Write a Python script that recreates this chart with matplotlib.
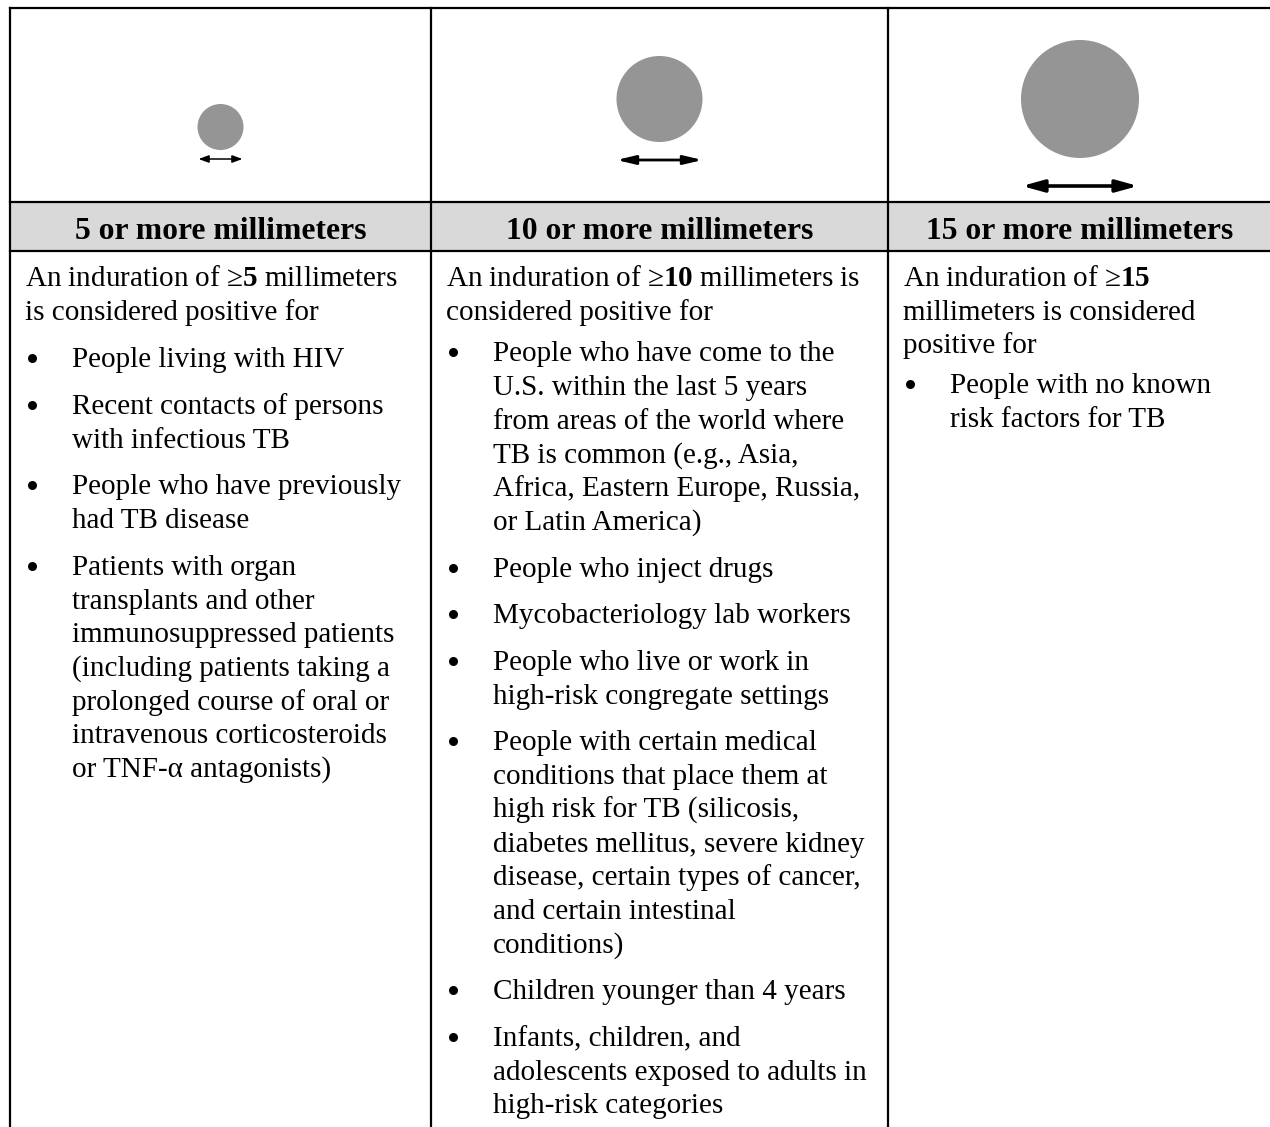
import matplotlib
matplotlib.use("Agg")
import matplotlib.pyplot as plt
from matplotlib.patches import Circle, Rectangle, FancyArrowPatch, ArrowStyle

plt.rcParams['font.family'] = ['Liberation Serif', 'DejaVu Serif']
plt.rcParams['mathtext.fontset'] = 'custom'
plt.rcParams['mathtext.rm'] = 'Liberation Serif'
plt.rcParams['mathtext.bf'] = 'Liberation Serif:bold'

# table content
thresholds = [5, 10, 15]
headers = ["5 or more millimeters", "10 or more millimeters", "15 or more millimeters"]
intros = [
    ["An induration of \u2265$\\mathbf{5}$ millimeters", "is considered positive for"],
    ["An induration of \u2265$\\mathbf{10}$ millimeters is", "considered positive for"],
    ["An induration of \u2265$\\mathbf{15}$", "millimeters is considered", "positive for"],
]
bullets = [
    [
        ["People living with HIV"],
        ["Recent contacts of persons", "with infectious TB"],
        ["People who have previously", "had TB disease"],
        ["Patients with organ", "transplants and other", "immunosuppressed patients",
         "(including patients taking a", "prolonged course of oral or",
         "intravenous corticosteroids", "or TNF-\u03b1 antagonists)"],
    ],
    [
        ["People who have come to the", "U.S. within the last 5 years",
         "from areas of the world where", "TB is common (e.g., Asia,",
         "Africa, Eastern Europe, Russia,", "or Latin America)"],
        ["People who inject drugs"],
        ["Mycobacteriology lab workers"],
        ["People who live or work in", "high-risk congregate settings"],
        ["People with certain medical", "conditions that place them at",
         "high risk for TB (silicosis,", "diabetes mellitus, severe kidney",
         "disease, certain types of cancer,", "and certain intestinal", "conditions)"],
        ["Children younger than 4 years"],
        ["Infants, children, and", "adolescents exposed to adults in",
         "high-risk categories"],
    ],
    [
        ["People with no known", "risk factors for TB"],
    ],
]

# layout (pixels)
W, H = 1270, 1127
col_edges = [10, 431, 888, 1272]
top_y, band_top, band_bot = 8, 202, 251
circle_r = [23, 43, 59]
circle_y = [127, 99, 99]
arrow_half = [22, 43, 58]
arrow_y = [159, 160, 186]
arrow_lw = [1.1, 2.0, 2.6]
arrow_head = [(6, 2.2), (11, 2.6), (13, 3.6)]
line_h = 33.7
intro_gap = [14, 8, 6]
bullet_gap = 13
first_base = 286
head_base = 239
body_size = 21
head_size = 22.8
grey = '#959595'
band = '#d9d9d9'

fig = plt.figure(figsize=(W / 100, H / 100), dpi=100)
ax = fig.add_axes([0, 0, 1, 1])
ax.set_xlim(0, W)
ax.set_ylim(H, 0)
ax.axis('off')

ax.add_patch(Rectangle((col_edges[0], band_top), col_edges[-1] - col_edges[0],
                       band_bot - band_top, color=band, lw=0))
lw = 1.6
for y in (top_y, band_top, band_bot):
    ax.plot([col_edges[0], W + 5], [y, y], color='black', lw=lw, solid_capstyle='projecting')
for x in col_edges:
    ax.plot([x, x], [top_y, H + 5], color='black', lw=lw, solid_capstyle='projecting')

for i, mm in enumerate(thresholds):
    left, right = col_edges[i], col_edges[i + 1]
    cx = (left + right) / 2
    ax.add_patch(Circle((cx, circle_y[i]), circle_r[i], color=grey, lw=0))
    hl, hw = arrow_head[i]
    style = ArrowStyle('<|-|>', head_length=hl, head_width=hw)
    ax.add_patch(FancyArrowPatch((cx - arrow_half[i], arrow_y[i]), (cx + arrow_half[i], arrow_y[i]),
                                 arrowstyle=style, mutation_scale=1, lw=arrow_lw[i],
                                 color='black', shrinkA=0, shrinkB=0))
    ax.text(cx, head_base, headers[i], ha='center', va='baseline',
            fontsize=head_size, fontweight='bold')

    y = first_base
    for k, line in enumerate(intros[i]):
        if k > 0:
            y += line_h
        ax.text(left + 15, y, line, ha='left', va='baseline', fontsize=body_size)
    y += intro_gap[i]
    for item in bullets[i]:
        y += line_h
        ax.plot(left + 22, y - 9, 'o', color='black', markersize=6.5, markeredgewidth=0)
        for k, line in enumerate(item):
            if k > 0:
                y += line_h
            ax.text(left + 62, y, line, ha='left', va='baseline', fontsize=body_size)
        y += bullet_gap

fig.savefig("out.png", dpi=100)
